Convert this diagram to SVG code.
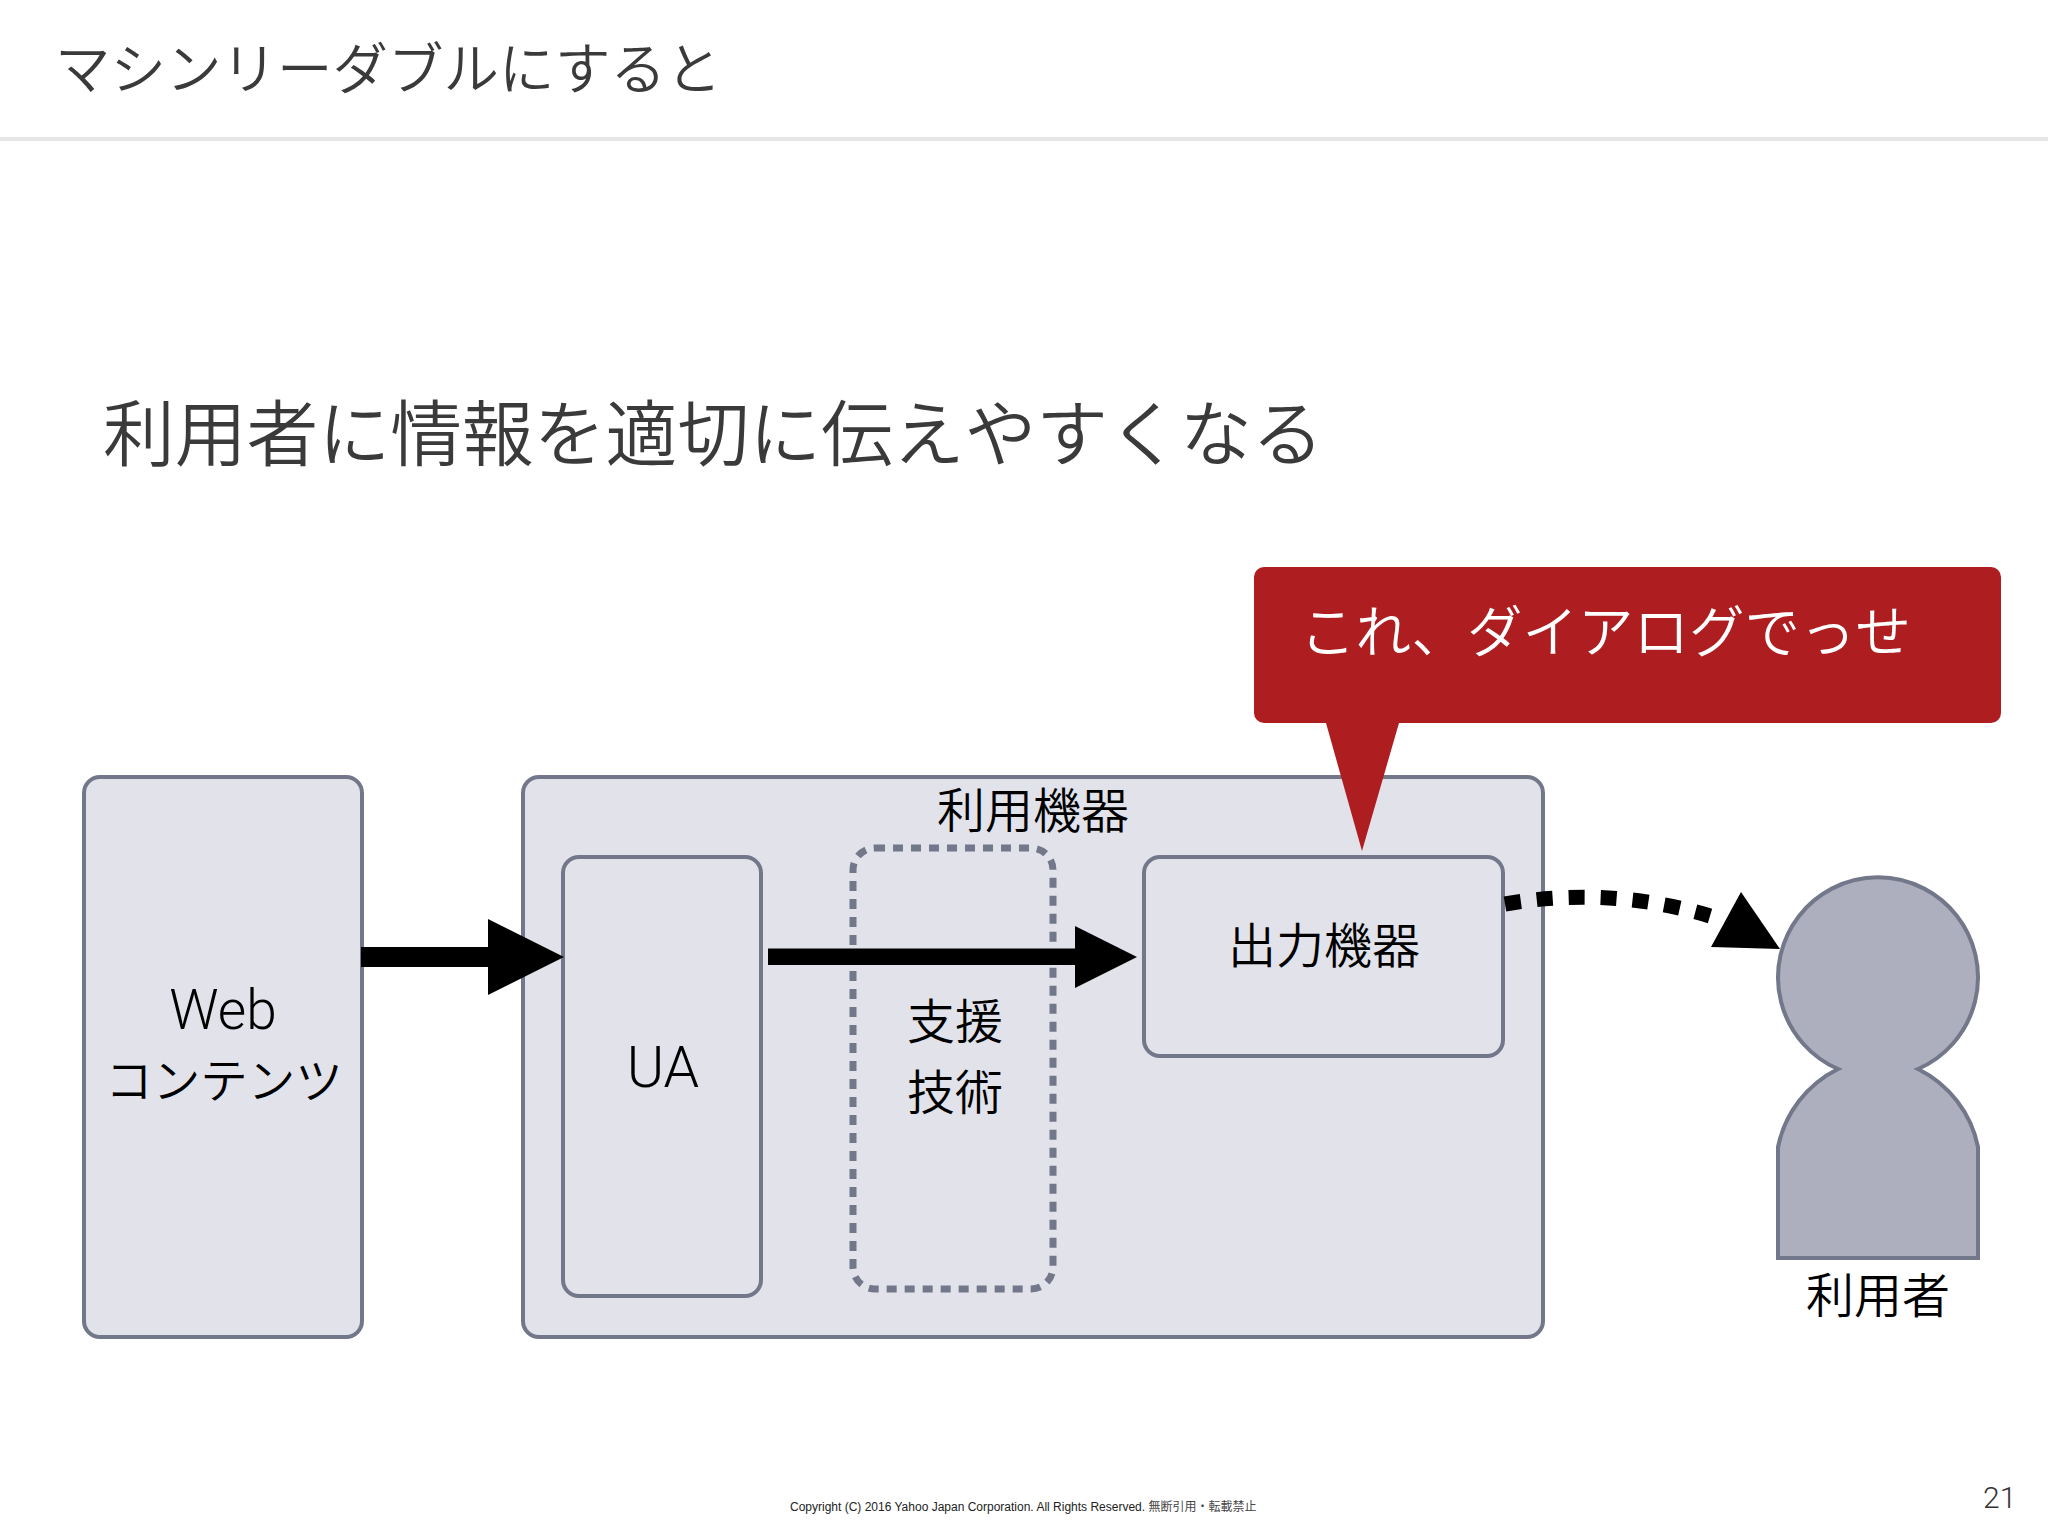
<svg xmlns="http://www.w3.org/2000/svg" width="2048" height="1536" viewBox="0 0 2048 1536">
<style>
.t{font-family:"Noto Sans CJK JP","Noto Sans",sans-serif;font-weight:350;fill:#000;text-anchor:middle;dominant-baseline:central}
.l{font-family:Roboto,"Liberation Sans",sans-serif;font-weight:300}
.h{fill:#3a3a3a;text-anchor:start}
.b{fill:#e1e2ea;stroke:#73778a;stroke-width:4}
.c{fill:#000;stroke:none}
</style>
<rect width="2048" height="1536" fill="#fff"/>
<g id="header">
<text class="t h" x="55" y="65" font-size="55.500">マシンリーダブルにすると</text>
<rect x="0" y="137" width="2048" height="4" fill="#e6e6e6"/>
</g>
<text class="t h" x="103" y="429" font-size="71.800">利用者に情報を適切に伝えやすくなる</text>
<g id="web"><rect class="b" x="84" y="777" width="278" height="560" rx="16"/>
<text class="t l" x="223" y="1010" font-size="55">Web</text>
<text class="t" x="224" y="1077" font-size="47.500">コンテンツ</text></g>
<g id="device"><rect class="b" x="523" y="777" width="1020" height="560" rx="16"/>
<text class="t" x="1033" y="807" font-size="48">利用機器</text></g>
<g id="ua"><rect class="b" x="563" y="857" width="198" height="439" rx="16"/>
<text class="t l" x="663" y="1067" font-size="57">UA</text></g>
<g id="at"><rect x="853" y="848" width="200" height="441" rx="22" fill="none" stroke="#73778a" stroke-width="7" stroke-dasharray="10 8"/>
<text class="t" x="955" y="1018" font-size="48">支援</text>
<text class="t" x="955" y="1089" font-size="48">技術</text></g>
<g id="output"><rect class="b" x="1144" y="857" width="359" height="199" rx="16"/>
<text class="t" x="1324" y="942" font-size="48">出力機器</text></g>
<g id="user"><path d="M1838 1069A100 100 0 1 1 1918 1069A112 112 0 0 1 1978 1147V1258H1778V1147A112 112 0 0 1 1838 1069Z" fill="#adaebe" stroke="#73778a" stroke-width="4"/>
<text class="t" x="1878" y="1292" font-size="48">利用者</text></g>
<g id="connectors">
<path class="c" d="M361 947H488V919L564 957L488 995V967H361Z"/>
<path class="c" d="M768 948.500H1075V926L1137 957L1075 988V965H768Z"/>
<path d="M1505 904Q1610 886 1710 916" fill="none" stroke="#000" stroke-width="15" stroke-dasharray="16 16"/>
<path class="c" d="M1741 892L1780 949L1711 947Z"/>
</g>
<g id="callout"><path d="M1264 567H1991A10 10 0 0 1 2001 577V713A10 10 0 0 1 1991 723H1399L1362 851L1326 723H1264A10 10 0 0 1 1254 713V577A10 10 0 0 1 1264 567Z" fill="#ae1d20"/>
<text class="t h" x="1300" y="628" font-size="55.500" style="fill:#fff">これ、ダイアログでっせ</text></g>
<g id="footer">
<text x="790" y="1511" font-size="12" font-family="'Liberation Sans','Noto Sans CJK JP',sans-serif" fill="#222">Copyright (C) 2016 Yahoo Japan Corporation. All Rights Reserved. <tspan fill="#444">無断引用・転載禁止</tspan></text>
<text class="l" x="1983" y="1508" font-size="30" fill="#333">21</text>
</g>
</svg>
